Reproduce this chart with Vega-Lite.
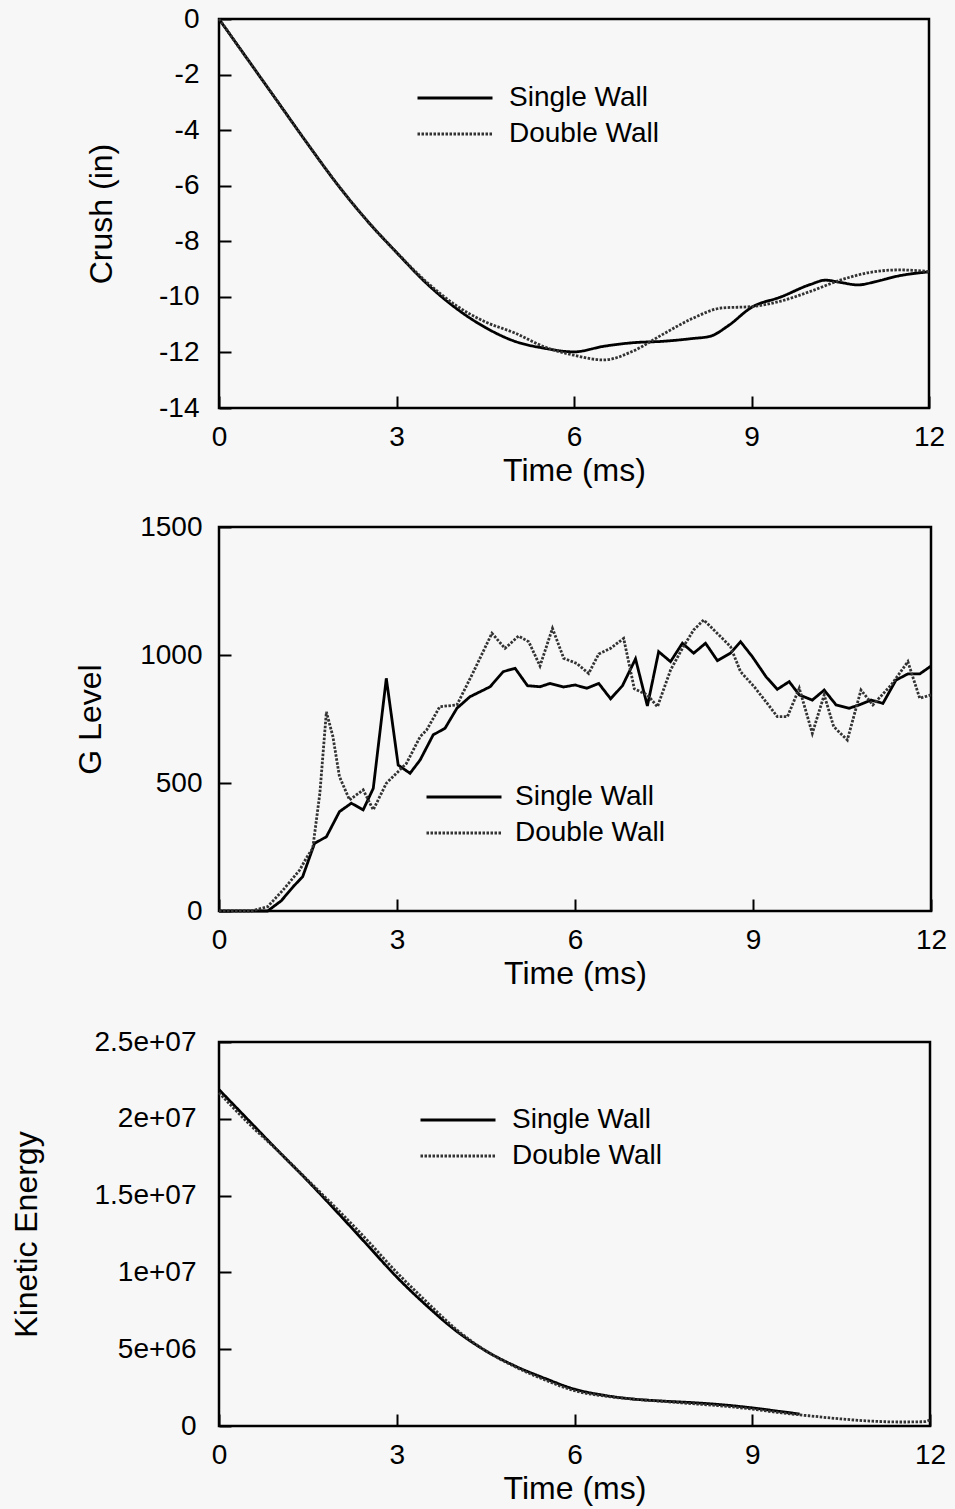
{
  "$schema": "https://vega.github.io/schema/vega-lite/v6.json",
  "background": "#f7f7f7",
  "padding": {"left": 8, "top": 3, "right": 25, "bottom": 5},
  "config": {
    "font": "Liberation Sans",
    "view": {"stroke": "#000000", "strokeWidth": 2.5, "fill": null},
    "axis": {
      "domain": false,
      "grid": false,
      "ticks": true,
      "tickSize": -12,
      "tickWidth": 2,
      "tickColor": "#000000",
      "labelFontSize": 28,
      "labelColor": "#000000",
      "labelFont": "Liberation Sans",
      "labelFlush": false,
      "labelOverlap": false,
      "titleFont": "Liberation Sans",
      "titleFontSize": 32,
      "titleFontWeight": "normal",
      "titleColor": "#000000",
      "labelPadding": 27
    },
    "legend": {
      "title": null,
      "labelFontSize": 28,
      "labelFont": "Liberation Sans",
      "labelColor": "#000000",
      "symbolType": "M-3,0H3",
      "symbolSize": 625,
      "symbolStrokeWidth": 2.8,
      "labelOffset": 40,
      "rowPadding": 8,
      "padding": 0
    },
    "line": {"strokeWidth": 2.8}
  },
  "spacing": 35,
  "resolve": {"scale": {"x": "independent", "y": "independent", "color": "independent", "strokeDash": "independent"}, "legend": {"color": "independent", "strokeDash": "independent"}},
  "vconcat": [
    {
      "spacing": 23,
      "resolve": {"scale": {"x": "independent", "y": "independent", "color": "independent", "strokeDash": "independent"}, "legend": {"color": "independent", "strokeDash": "independent"}},
      "vconcat": [
        {
          "width": 710,
          "height": 389,
          "data": {"values": [
            {"s": "Single Wall", "t": 0, "v": 0},
            {"s": "Single Wall", "t": 0.5, "v": -1.5},
            {"s": "Single Wall", "t": 1, "v": -3.0},
            {"s": "Single Wall", "t": 1.5, "v": -4.5},
            {"s": "Single Wall", "t": 2, "v": -5.95},
            {"s": "Single Wall", "t": 2.5, "v": -7.25},
            {"s": "Single Wall", "t": 3, "v": -8.4},
            {"s": "Single Wall", "t": 3.5, "v": -9.5},
            {"s": "Single Wall", "t": 4, "v": -10.4},
            {"s": "Single Wall", "t": 4.5, "v": -11.1},
            {"s": "Single Wall", "t": 5, "v": -11.6},
            {"s": "Single Wall", "t": 5.5, "v": -11.85},
            {"s": "Single Wall", "t": 6, "v": -11.98},
            {"s": "Single Wall", "t": 6.5, "v": -11.78},
            {"s": "Single Wall", "t": 7, "v": -11.65},
            {"s": "Single Wall", "t": 7.5, "v": -11.6},
            {"s": "Single Wall", "t": 8, "v": -11.5},
            {"s": "Single Wall", "t": 8.3, "v": -11.42},
            {"s": "Single Wall", "t": 8.6, "v": -11.05},
            {"s": "Single Wall", "t": 9, "v": -10.38},
            {"s": "Single Wall", "t": 9.5, "v": -10.0},
            {"s": "Single Wall", "t": 10, "v": -9.55},
            {"s": "Single Wall", "t": 10.25, "v": -9.4},
            {"s": "Single Wall", "t": 10.5, "v": -9.48},
            {"s": "Single Wall", "t": 10.8, "v": -9.57},
            {"s": "Single Wall", "t": 11.1, "v": -9.45},
            {"s": "Single Wall", "t": 11.5, "v": -9.24},
            {"s": "Single Wall", "t": 12, "v": -9.1},
            {"s": "Double Wall", "t": 0, "v": 0},
            {"s": "Double Wall", "t": 0.5, "v": -1.5},
            {"s": "Double Wall", "t": 1, "v": -3.0},
            {"s": "Double Wall", "t": 1.5, "v": -4.5},
            {"s": "Double Wall", "t": 2, "v": -5.95},
            {"s": "Double Wall", "t": 2.5, "v": -7.25},
            {"s": "Double Wall", "t": 3, "v": -8.4},
            {"s": "Double Wall", "t": 3.5, "v": -9.45},
            {"s": "Double Wall", "t": 4, "v": -10.3},
            {"s": "Double Wall", "t": 4.5, "v": -10.9},
            {"s": "Double Wall", "t": 5, "v": -11.3},
            {"s": "Double Wall", "t": 5.5, "v": -11.8},
            {"s": "Double Wall", "t": 6, "v": -12.1},
            {"s": "Double Wall", "t": 6.5, "v": -12.27},
            {"s": "Double Wall", "t": 7, "v": -11.95},
            {"s": "Double Wall", "t": 7.5, "v": -11.35},
            {"s": "Double Wall", "t": 8, "v": -10.78},
            {"s": "Double Wall", "t": 8.5, "v": -10.4},
            {"s": "Double Wall", "t": 9, "v": -10.35},
            {"s": "Double Wall", "t": 9.5, "v": -10.15},
            {"s": "Double Wall", "t": 10, "v": -9.8},
            {"s": "Double Wall", "t": 10.5, "v": -9.4},
            {"s": "Double Wall", "t": 11, "v": -9.12},
            {"s": "Double Wall", "t": 11.5, "v": -9.03},
            {"s": "Double Wall", "t": 12, "v": -9.09}
          ]},
          "mark": {"type": "line", "interpolate": "monotone"},
          "encoding": {
            "x": {"field": "t", "type": "quantitative", "scale": {"domain": [0, 12], "nice": false}, "axis": {"values": [0, 3, 6, 9, 12], "title": "Time (ms)", "titlePadding": 4}},
            "y": {"field": "v", "type": "quantitative", "scale": {"domain": [-14, 0], "nice": false}, "axis": {"values": [-14, -12, -10, -8, -6, -4, -2, 0], "labelExpr": "datum.value + ''", "title": "Crush (in)", "labelPadding": 32, "titlePadding": 40}},
            "color": {"field": "s", "type": "nominal", "scale": {"domain": ["Single Wall", "Double Wall"], "range": ["#000000", "#333333"]}, "legend": {"orient": "none", "legendX": 222, "legendY": 65}},
            "strokeDash": {"field": "s", "type": "nominal", "scale": {"domain": ["Single Wall", "Double Wall"], "range": [[1, 0], [2.5, 1.5]]}, "legend": {"orient": "none", "legendX": 222, "legendY": 65}}
          }
        },
        {
          "width": 712,
          "height": 384,
          "data": {"values": [
            {"s": "Single Wall", "t": 0, "v": 0},
            {"s": "Single Wall", "t": 0.82, "v": 0},
            {"s": "Single Wall", "t": 1.05, "v": 40},
            {"s": "Single Wall", "t": 1.25, "v": 95},
            {"s": "Single Wall", "t": 1.41, "v": 134},
            {"s": "Single Wall", "t": 1.61, "v": 264},
            {"s": "Single Wall", "t": 1.81, "v": 290},
            {"s": "Single Wall", "t": 2.03, "v": 388},
            {"s": "Single Wall", "t": 2.23, "v": 421},
            {"s": "Single Wall", "t": 2.43, "v": 395},
            {"s": "Single Wall", "t": 2.6, "v": 479},
            {"s": "Single Wall", "t": 2.82, "v": 909},
            {"s": "Single Wall", "t": 3.02, "v": 570},
            {"s": "Single Wall", "t": 3.22, "v": 538},
            {"s": "Single Wall", "t": 3.39, "v": 590},
            {"s": "Single Wall", "t": 3.61, "v": 688},
            {"s": "Single Wall", "t": 3.81, "v": 714},
            {"s": "Single Wall", "t": 4.01, "v": 792},
            {"s": "Single Wall", "t": 4.23, "v": 837},
            {"s": "Single Wall", "t": 4.57, "v": 876},
            {"s": "Single Wall", "t": 4.79, "v": 935},
            {"s": "Single Wall", "t": 4.99, "v": 948},
            {"s": "Single Wall", "t": 5.2, "v": 880},
            {"s": "Single Wall", "t": 5.41, "v": 876},
            {"s": "Single Wall", "t": 5.58, "v": 889},
            {"s": "Single Wall", "t": 5.81, "v": 875},
            {"s": "Single Wall", "t": 6.0, "v": 883},
            {"s": "Single Wall", "t": 6.2, "v": 870},
            {"s": "Single Wall", "t": 6.4, "v": 889},
            {"s": "Single Wall", "t": 6.6, "v": 829},
            {"s": "Single Wall", "t": 6.8, "v": 880},
            {"s": "Single Wall", "t": 7.02, "v": 985},
            {"s": "Single Wall", "t": 7.22, "v": 801},
            {"s": "Single Wall", "t": 7.41, "v": 1013},
            {"s": "Single Wall", "t": 7.61, "v": 974},
            {"s": "Single Wall", "t": 7.81, "v": 1046},
            {"s": "Single Wall", "t": 8.0, "v": 1007},
            {"s": "Single Wall", "t": 8.2, "v": 1046},
            {"s": "Single Wall", "t": 8.4, "v": 978},
            {"s": "Single Wall", "t": 8.62, "v": 1007},
            {"s": "Single Wall", "t": 8.79, "v": 1052},
            {"s": "Single Wall", "t": 8.99, "v": 993},
            {"s": "Single Wall", "t": 9.22, "v": 915},
            {"s": "Single Wall", "t": 9.41, "v": 866},
            {"s": "Single Wall", "t": 9.61, "v": 896},
            {"s": "Single Wall", "t": 9.78, "v": 844},
            {"s": "Single Wall", "t": 10.0, "v": 824},
            {"s": "Single Wall", "t": 10.2, "v": 863},
            {"s": "Single Wall", "t": 10.4, "v": 805},
            {"s": "Single Wall", "t": 10.62, "v": 792},
            {"s": "Single Wall", "t": 10.79, "v": 805},
            {"s": "Single Wall", "t": 10.99, "v": 824},
            {"s": "Single Wall", "t": 11.19, "v": 811},
            {"s": "Single Wall", "t": 11.41, "v": 902},
            {"s": "Single Wall", "t": 11.61, "v": 926},
            {"s": "Single Wall", "t": 11.81, "v": 926},
            {"s": "Single Wall", "t": 12.0, "v": 957},
            {"s": "Double Wall", "t": 0, "v": 0},
            {"s": "Double Wall", "t": 0.55, "v": 0},
            {"s": "Double Wall", "t": 0.82, "v": 17},
            {"s": "Double Wall", "t": 1.08, "v": 82},
            {"s": "Double Wall", "t": 1.36, "v": 160},
            {"s": "Double Wall", "t": 1.47, "v": 206},
            {"s": "Double Wall", "t": 1.58, "v": 245},
            {"s": "Double Wall", "t": 1.7, "v": 460},
            {"s": "Double Wall", "t": 1.81, "v": 778},
            {"s": "Double Wall", "t": 1.92, "v": 681},
            {"s": "Double Wall", "t": 2.03, "v": 525},
            {"s": "Double Wall", "t": 2.2, "v": 434},
            {"s": "Double Wall", "t": 2.43, "v": 473},
            {"s": "Double Wall", "t": 2.6, "v": 395},
            {"s": "Double Wall", "t": 2.82, "v": 499},
            {"s": "Double Wall", "t": 3.16, "v": 577},
            {"s": "Double Wall", "t": 3.39, "v": 681},
            {"s": "Double Wall", "t": 3.5, "v": 707},
            {"s": "Double Wall", "t": 3.72, "v": 798},
            {"s": "Double Wall", "t": 4.01, "v": 805},
            {"s": "Double Wall", "t": 4.29, "v": 935},
            {"s": "Double Wall", "t": 4.6, "v": 1085},
            {"s": "Double Wall", "t": 4.82, "v": 1026},
            {"s": "Double Wall", "t": 5.05, "v": 1074},
            {"s": "Double Wall", "t": 5.22, "v": 1052},
            {"s": "Double Wall", "t": 5.41, "v": 957},
            {"s": "Double Wall", "t": 5.62, "v": 1104},
            {"s": "Double Wall", "t": 5.81, "v": 987},
            {"s": "Double Wall", "t": 6.03, "v": 967},
            {"s": "Double Wall", "t": 6.23, "v": 928},
            {"s": "Double Wall", "t": 6.4, "v": 1004},
            {"s": "Double Wall", "t": 6.6, "v": 1026},
            {"s": "Double Wall", "t": 6.82, "v": 1065},
            {"s": "Double Wall", "t": 7.0, "v": 868},
            {"s": "Double Wall", "t": 7.22, "v": 844},
            {"s": "Double Wall", "t": 7.39, "v": 798},
            {"s": "Double Wall", "t": 7.61, "v": 941},
            {"s": "Double Wall", "t": 7.81, "v": 1026},
            {"s": "Double Wall", "t": 8.0, "v": 1098},
            {"s": "Double Wall", "t": 8.17, "v": 1137},
            {"s": "Double Wall", "t": 8.34, "v": 1098},
            {"s": "Double Wall", "t": 8.62, "v": 1033},
            {"s": "Double Wall", "t": 8.79, "v": 935},
            {"s": "Double Wall", "t": 9.02, "v": 876},
            {"s": "Double Wall", "t": 9.24, "v": 811},
            {"s": "Double Wall", "t": 9.41, "v": 759},
            {"s": "Double Wall", "t": 9.58, "v": 759},
            {"s": "Double Wall", "t": 9.78, "v": 870},
            {"s": "Double Wall", "t": 10.0, "v": 694},
            {"s": "Double Wall", "t": 10.2, "v": 844},
            {"s": "Double Wall", "t": 10.36, "v": 720},
            {"s": "Double Wall", "t": 10.59, "v": 668},
            {"s": "Double Wall", "t": 10.82, "v": 863},
            {"s": "Double Wall", "t": 11.02, "v": 805},
            {"s": "Double Wall", "t": 11.33, "v": 883},
            {"s": "Double Wall", "t": 11.61, "v": 974},
            {"s": "Double Wall", "t": 11.81, "v": 831},
            {"s": "Double Wall", "t": 12.0, "v": 844}
          ]},
          "mark": {"type": "line"},
          "encoding": {
            "x": {"field": "t", "type": "quantitative", "scale": {"domain": [0, 12], "nice": false}, "axis": {"values": [0, 3, 6, 9, 12], "title": "Time (ms)", "titlePadding": 4}},
            "y": {"field": "v", "type": "quantitative", "scale": {"domain": [0, 1500], "nice": false}, "axis": {"values": [0, 500, 1000, 1500], "labelExpr": "datum.value + ''", "title": "G Level", "labelPadding": 29, "titlePadding": 32}},
            "color": {"field": "s", "type": "nominal", "scale": {"domain": ["Single Wall", "Double Wall"], "range": ["#000000", "#333333"]}, "legend": {"orient": "none", "legendX": 231, "legendY": 256, "labelOffset": 37}},
            "strokeDash": {"field": "s", "type": "nominal", "scale": {"domain": ["Single Wall", "Double Wall"], "range": [[1, 0], [2.5, 1.5]]}, "legend": {"orient": "none", "legendX": 231, "legendY": 256, "labelOffset": 37}}
          }
        }
      ]
    },
    {
      "width": 711,
      "height": 384,
      "data": {"values": [
        {"s": "Single Wall", "t": 0, "v": 21900000},
        {"s": "Single Wall", "t": 0.5, "v": 19900000},
        {"s": "Single Wall", "t": 1, "v": 17900000},
        {"s": "Single Wall", "t": 1.5, "v": 15950000},
        {"s": "Single Wall", "t": 2, "v": 13900000},
        {"s": "Single Wall", "t": 2.5, "v": 11800000},
        {"s": "Single Wall", "t": 3, "v": 9700000},
        {"s": "Single Wall", "t": 3.5, "v": 7850000},
        {"s": "Single Wall", "t": 4, "v": 6200000},
        {"s": "Single Wall", "t": 4.5, "v": 4900000},
        {"s": "Single Wall", "t": 5, "v": 3900000},
        {"s": "Single Wall", "t": 5.5, "v": 3100000},
        {"s": "Single Wall", "t": 6, "v": 2400000},
        {"s": "Single Wall", "t": 6.5, "v": 2000000},
        {"s": "Single Wall", "t": 7, "v": 1750000},
        {"s": "Single Wall", "t": 7.5, "v": 1620000},
        {"s": "Single Wall", "t": 8, "v": 1520000},
        {"s": "Single Wall", "t": 8.5, "v": 1380000},
        {"s": "Single Wall", "t": 9, "v": 1180000},
        {"s": "Single Wall", "t": 9.5, "v": 930000},
        {"s": "Single Wall", "t": 9.8, "v": 780000},
        {"s": "Double Wall", "t": 0, "v": 21700000},
        {"s": "Double Wall", "t": 0.5, "v": 19700000},
        {"s": "Double Wall", "t": 1, "v": 17900000},
        {"s": "Double Wall", "t": 1.5, "v": 16000000},
        {"s": "Double Wall", "t": 2, "v": 14100000},
        {"s": "Double Wall", "t": 2.5, "v": 12100000},
        {"s": "Double Wall", "t": 3, "v": 10000000},
        {"s": "Double Wall", "t": 3.5, "v": 8100000},
        {"s": "Double Wall", "t": 4, "v": 6300000},
        {"s": "Double Wall", "t": 4.5, "v": 4900000},
        {"s": "Double Wall", "t": 5, "v": 3850000},
        {"s": "Double Wall", "t": 5.5, "v": 3000000},
        {"s": "Double Wall", "t": 6, "v": 2300000},
        {"s": "Double Wall", "t": 6.5, "v": 1950000},
        {"s": "Double Wall", "t": 7, "v": 1750000},
        {"s": "Double Wall", "t": 7.5, "v": 1600000},
        {"s": "Double Wall", "t": 8, "v": 1450000},
        {"s": "Double Wall", "t": 8.5, "v": 1300000},
        {"s": "Double Wall", "t": 9, "v": 1100000},
        {"s": "Double Wall", "t": 9.5, "v": 850000},
        {"s": "Double Wall", "t": 10, "v": 650000},
        {"s": "Double Wall", "t": 10.5, "v": 460000},
        {"s": "Double Wall", "t": 11, "v": 320000},
        {"s": "Double Wall", "t": 11.5, "v": 260000},
        {"s": "Double Wall", "t": 11.9, "v": 280000},
        {"s": "Double Wall", "t": 12, "v": 400000}
      ]},
      "mark": {"type": "line", "interpolate": "monotone"},
      "encoding": {
        "x": {"field": "t", "type": "quantitative", "scale": {"domain": [0, 12], "nice": false}, "axis": {"values": [0, 3, 6, 9, 12], "title": "Time (ms)", "titlePadding": 4}},
        "y": {"field": "v", "type": "quantitative", "scale": {"domain": [0, 25000000], "nice": false}, "axis": {"values": [0, 5000000, 10000000, 15000000, 20000000, 25000000], "labelExpr": "datum.value == 0 ? '0' : replace(format(datum.value, '.2~e'), 'e+', 'e+0')", "title": "Kinetic Energy", "labelPadding": 35, "titlePadding": 51}},
        "color": {"field": "s", "type": "nominal", "scale": {"domain": ["Single Wall", "Double Wall"], "range": ["#000000", "#333333"]}, "legend": {"orient": "none", "legendX": 225, "legendY": 64}},
        "strokeDash": {"field": "s", "type": "nominal", "scale": {"domain": ["Single Wall", "Double Wall"], "range": [[1, 0], [2.5, 1.5]]}, "legend": {"orient": "none", "legendX": 225, "legendY": 64}}
      }
    }
  ]
}
